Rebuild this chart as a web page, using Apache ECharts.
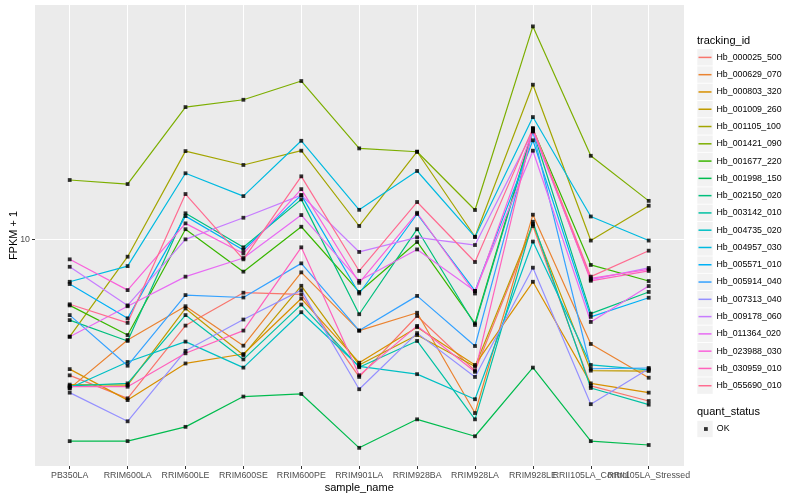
<!DOCTYPE html>
<html><head><meta charset="utf-8">
<script src="https://cdn.jsdelivr.net/npm/echarts@6/dist/echarts.min.js"></script>
<style>html,body{margin:0;padding:0;background:#fff}#c{width:800px;height:500px}</style>
</head><body><div id="c"></div>
<script>
const categories = ['PB350LA','RRIM600LA','RRIM600LE','RRIM600SE','RRIM600PE','RRIM901LA','RRIM928BA','RRIM928LA','RRIM928LE','RRII105LA_Control','RRII105LA_Stressed'];
const trackingIds = ['Hb_000025_500','Hb_000629_070','Hb_000803_320','Hb_001009_260','Hb_001105_100','Hb_001421_090','Hb_001677_220','Hb_001998_150','Hb_002150_020','Hb_003142_010','Hb_004735_020','Hb_004957_030','Hb_005571_010','Hb_005914_040','Hb_007313_040','Hb_009178_060','Hb_011364_020','Hb_023988_030','Hb_030959_010','Hb_055690_010'];

const hb_000025_500 = [5.07, 4.52, 6.50, 7.66, 7.60, 5.03, 6.82, 5.19, 10.69, 4.81, 4.46];
const hb_000629_070 = [4.75, 6.05, 7.16, 5.88, 8.48, 6.34, 6.93, 4.20, 11.31, 5.93, 5.01];
const hb_000803_320 = [5.23, 4.48, 5.38, 5.64, 7.44, 5.40, 6.45, 5.34, 8.09, 4.87, 4.65];
const hb_001009_260 = [4.84, 4.83, 7.08, 5.61, 7.93, 5.34, 6.20, 5.30, 10.79, 5.19, 5.18];
const hb_001105_100 = [6.15, 9.17, 15.54, 14.50, 15.57, 10.69, 15.49, 10.13, 21.65, 9.94, 11.83];
const hb_001421_090 = [13.45, 13.18, 19.36, 20.08, 22.05, 15.75, 15.49, 11.58, 28.97, 15.18, 12.12];
const hb_001677_220 = [7.19, 6.20, 10.52, 8.51, 10.65, 7.69, 9.87, 6.57, 17.35, 8.80, 8.12];
const hb_001998_150 = [3.65, 3.65, 3.92, 4.56, 4.62, 3.53, 4.07, 3.74, 5.27, 3.65, 3.58];
const hb_002150_020 = [6.68, 6.02, 11.39, 9.61, 12.21, 6.88, 10.52, 6.52, 17.22, 6.90, 7.69];
const hb_003142_010 = [4.81, 4.87, 6.85, 5.49, 7.22, 5.28, 6.02, 4.07, 10.92, 4.76, 4.38];
const hb_004735_020 = [4.76, 5.42, 6.00, 5.27, 6.95, 5.30, 5.10, 4.50, 9.89, 5.34, 5.21];
const hb_004957_030 = [8.09, 8.75, 13.91, 12.41, 16.36, 11.59, 14.07, 10.12, 18.42, 11.21, 9.94];
const hb_005571_010 = [8.00, 6.74, 11.23, 9.48, 12.47, 7.63, 11.35, 7.73, 16.40, 6.79, 7.47];
const hb_005914_040 = [6.85, 5.32, 7.57, 7.48, 8.87, 6.34, 7.54, 5.87, 17.13, 5.24, 5.26];
const hb_007313_040 = [4.65, 4.03, 5.73, 6.70, 7.76, 4.73, 6.26, 5.03, 8.68, 4.39, 5.24];
const hb_009178_060 = [8.72, 7.19, 10.00, 11.14, 12.47, 9.39, 10.10, 9.72, 17.17, 8.18, 8.67];
const hb_011364_020 = [6.15, 7.16, 8.30, 9.11, 11.29, 8.13, 9.51, 7.73, 15.57, 6.62, 7.92];
const hb_023988_030 = [9.05, 7.76, 10.83, 9.32, 12.85, 8.05, 11.42, 7.63, 17.26, 8.23, 8.61];
const hb_030959_010 = [4.79, 4.79, 5.66, 6.34, 9.61, 5.07, 6.49, 5.16, 17.39, 8.13, 8.54];
const hb_055690_010 = [7.23, 6.59, 12.54, 9.05, 13.70, 8.54, 12.05, 8.93, 17.43, 8.30, 9.45];

const seriesValues = [hb_000025_500, hb_000629_070, hb_000803_320, hb_001009_260, hb_001105_100, hb_001421_090, hb_001677_220, hb_001998_150, hb_002150_020, hb_003142_010, hb_004735_020, hb_004957_030, hb_005571_010, hb_005914_040, hb_007313_040, hb_009178_060, hb_011364_020, hb_023988_030, hb_030959_010, hb_055690_010];
const yTickValues = [10];
const quantStatus = ['OK'];

const palette = ['#F8766D','#EA8331','#D89000','#C09B00','#A3A500','#7CAE00','#39B600','#00BB4E','#00BF7D','#00C1A3','#00BFC4','#00BAE0','#00B0F6','#35A2FF','#9590FF','#C77CFF','#E76BF3','#FA62DB','#FF62BC','#FF6C91'];
const FONT = '"Liberation Sans", Arial, sans-serif';
const Y_MIN = 3.2237, Y_MAX = 32.237;
const KEY_STEP = 17.28, KEY_TOP = 57.3, OK_CENTER = 429;

const chart = echarts.init(document.getElementById('c'), null, {renderer: 'canvas'});

const lineSeries = trackingIds.map((id, i) => ({
  name: id, type: 'line', xAxisIndex: 1, yAxisIndex: 1,
  data: seriesValues[i], showSymbol: false, symbol: 'none',
  color: palette[i], lineStyle: {width: 1.2, color: palette[i]},
  silent: true, animation: false, z: 2, emphasis: {disabled: true}
}));

const pointData = [];
seriesValues.forEach(vals => vals.forEach((v, j) => pointData.push([j, v])));

const graphics = [];
trackingIds.forEach((id, i) => {
  graphics.push({type: 'rect', silent: true, z: 0,
    shape: {x: 697.3, y: KEY_TOP + i * KEY_STEP - 8.2, width: 15.4, height: 16.4},
    style: {fill: '#F2F2F2'}});
});
graphics.push({type: 'rect', silent: true, z: 0,
  shape: {x: 697.3, y: OK_CENTER - 8.2, width: 15.4, height: 16.4}, style: {fill: '#F2F2F2'}});
graphics.push({type: 'text', silent: true, x: 697, y: 40.7,
  style: {text: 'tracking_id', fontSize: 11, fontFamily: FONT, fill: '#000', verticalAlign: 'middle', align: 'left'}});
graphics.push({type: 'text', silent: true, x: 697, y: 412.3,
  style: {text: 'quant_status', fontSize: 11, fontFamily: FONT, fill: '#000', verticalAlign: 'middle', align: 'left'}});

chart.setOption({
  animation: false,
  backgroundColor: '#fff',
  textStyle: {fontFamily: FONT},
  grid: [
    {left: 35, right: 116, top: 5, bottom: 34, show: true, backgroundColor: '#EBEBEB', borderWidth: 0, containLabel: false, outerBoundsMode: 'none', z: -1},
    {left: 69.7, right: 151.3, top: 5, bottom: 34, show: false, containLabel: false, outerBoundsMode: 'none'}
  ],
  xAxis: [
    {type: 'value', gridIndex: 0, show: false, min: 0, max: 1},
    {type: 'category', gridIndex: 1, data: categories, boundaryGap: false,
     axisLine: {show: false},
     axisTick: {show: true, length: 3, lineStyle: {color: '#333333', width: 1}},
     axisLabel: {interval: 0, hideOverlap: false, color: '#4D4D4D', fontSize: 8.8, fontFamily: FONT, margin: 5},
     splitLine: {show: true, lineStyle: {color: '#FFFFFF', width: 1.07}},
     name: 'sample_name', nameLocation: 'middle', nameGap: 16.5, nameMoveOverlap: false,
     nameTextStyle: {color: '#000', fontSize: 11, fontFamily: FONT}}
  ],
  yAxis: [
    {type: 'log', logBase: 10, gridIndex: 0, min: Y_MIN, max: Y_MAX,
     axisLine: {show: false},
     axisTick: {show: true, length: 3, customValues: yTickValues, lineStyle: {color: '#333333', width: 1}},
     axisLabel: {customValues: yTickValues, showMinLabel: false, showMaxLabel: false,
       color: '#4D4D4D', fontSize: 8.8, fontFamily: FONT, margin: 5,
       formatter: v => (Math.abs(v - 10) < 0.01 ? '10' : '')},
     splitLine: {show: true, lineStyle: {color: '#FFFFFF', width: 1.07}},
     minorTick: {show: false}, minorSplitLine: {show: false},
     name: 'FPKM + 1', nameLocation: 'middle', nameGap: 16, nameMoveOverlap: false,
     nameTextStyle: {color: '#000', fontSize: 11, fontFamily: FONT}},
    {type: 'log', logBase: 10, gridIndex: 1, min: Y_MIN, max: Y_MAX, show: false,
     splitLine: {show: false}}
  ],
  legend: [
    {orient: 'vertical', left: 698.5, top: KEY_TOP - KEY_STEP / 2 + 0.1, padding: 0,
     itemWidth: 13, itemHeight: 1.5, itemGap: 0, icon: 'rect', selectedMode: false,
     data: trackingIds,
     textStyle: {color: '#000', fontSize: 8.8, fontFamily: FONT, lineHeight: KEY_STEP}},
    {orient: 'vertical', left: 704, top: OK_CENTER - KEY_STEP / 2, padding: 0,
     itemWidth: 3.8, itemHeight: 3.8, itemGap: 0, icon: 'rect', selectedMode: false,
     data: quantStatus,
     textStyle: {color: '#000', fontSize: 8.8, fontFamily: FONT, lineHeight: KEY_STEP, padding: [0, 0, 0, 4]}}
  ],
  graphic: graphics,
  series: lineSeries.concat([{
    name: 'OK', type: 'scatter', xAxisIndex: 1, yAxisIndex: 1,
    data: pointData, symbol: 'rect', symbolSize: 3.8,
    itemStyle: {color: '#000'}, silent: true, z: 3, animation: false
  }])
});
</script></body></html>
